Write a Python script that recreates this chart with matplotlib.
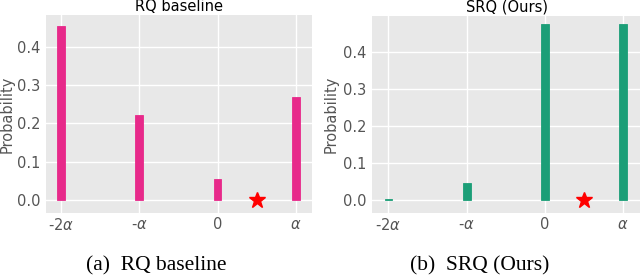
import matplotlib
matplotlib.use("Agg")
import matplotlib.pyplot as plt

positions = [-2, -1, 0, 1]
tick_labels = ['-2$\\alpha$', '-$\\alpha$', '0', '$\\alpha$']
rq_probs = [0.455, 0.222, 0.055, 0.270]
srq_probs = [0.003, 0.047, 0.476, 0.476]
star_x = 0.5
titles = ['RQ baseline', 'SRQ (Ours)']
captions = ['(a)  RQ baseline', '(b)  SRQ (Ours)']
colors = ['#E7298A', '#1B9E77']

fig = plt.figure(figsize=(6.4, 2.77), dpi=100)
rects = [[46/640, 64/277, 265.5/640, 198/277],
         [372/640, 63.7/277, 270/640, 197.3/277]]
ylims = [(-0.034, 0.4827), (-0.036, 0.4986)]
xlims = [(-2.19, 1.2), (-2.21, 1.24)]
ylabel_x = [-0.117, -0.122]
caption_x = [0.244, 0.75]
data = [rq_probs, srq_probs]

for i in range(2):
    ax = fig.add_axes(rects[i])
    ax.set_facecolor('#E8E8E8')
    for s in ax.spines.values():
        s.set_visible(False)
    ax.grid(True, color='white', linewidth=1.0)
    ax.set_axisbelow(True)
    ax.bar(positions, data[i], width=0.1, color=colors[i],
           edgecolor=colors[i], linewidth=0.6, zorder=3)
    ax.plot([star_x], [0], marker='*', markersize=12, color='red',
            markeredgecolor='red', linestyle='none', zorder=4)
    ax.set_xlim(*xlims[i])
    ax.set_ylim(*ylims[i])
    ax.set_xticks(positions)
    ax.set_xticklabels(tick_labels)
    ax.set_yticks([0.0, 0.1, 0.2, 0.3, 0.4])
    ax.set_yticklabels(['0.0', '0.1', '0.2', '0.3', '0.4'])
    ax.tick_params(length=0, labelsize=10.5, colors='#555555')
    ax.tick_params(axis='x', pad=3)
    ax.tick_params(axis='y', pad=4)
    ax.set_ylabel('Probability', fontsize=10.5, color='#555555')
    ax.yaxis.set_label_coords(ylabel_x[i], 0.5)
    ax.set_title(titles[i], fontsize=10.5, color='black', pad=3)
    fig.text(caption_x[i], 7/277, captions[i], ha='center', va='baseline',
             fontsize=15.5, family='Liberation Serif')

fig.savefig('out.png', dpi=100)
